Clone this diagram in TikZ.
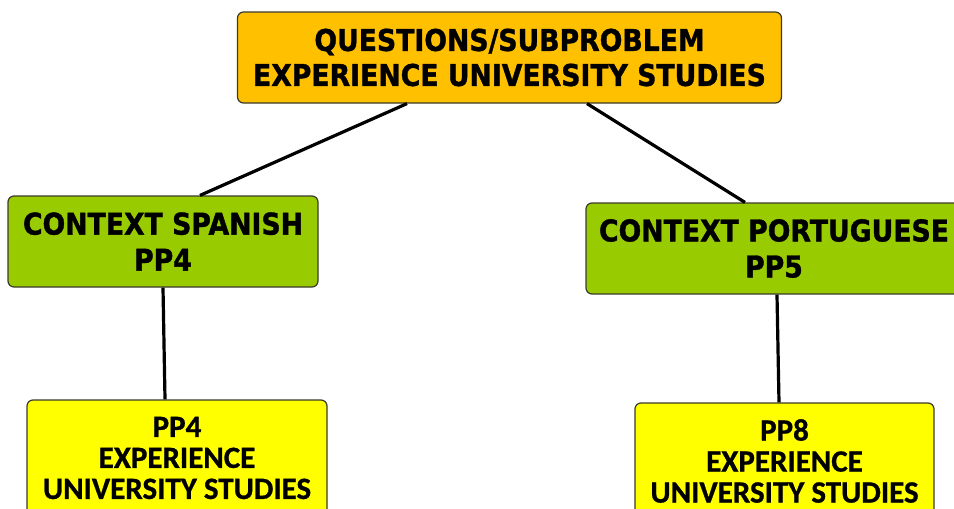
\documentclass[tikz,border=0pt]{standalone}
\usepackage{fontspec}
\newfontfamily\dvs{DejaVu Sans}[FakeStretch=0.89,FakeBold=1.2]
\newfontfamily\carl{Carlito}[FakeBold=0.8]
\definecolor{qorange}{HTML}{FFC000}
\definecolor{cgreen}{HTML}{99CC00}
\definecolor{pyellow}{HTML}{FFFF00}
\definecolor{bordercol}{HTML}{3A3A2A}
\tikzset{
  box/.style={draw=bordercol, line width=1.2pt, rounded corners=6pt, inner sep=0pt, align=center},
  headbox/.style={box, fill=qorange, font=\dvs\bfseries\fontsize{30}{35}\selectfont},
  ctxbox/.style={box, fill=cgreen, font=\dvs\bfseries\fontsize{30}{36}\selectfont},
  ppbox/.style={box, fill=pyellow, font=\carl\bfseries\fontsize{31}{31}\selectfont},
  link/.style={draw=black, line width=3.2pt}
}
\begin{document}
\begin{tikzpicture}[x=1pt,y=-1pt]
\useasboundingbox (0,0) rectangle (954,509);
\clip (0,0) rectangle (954,509);
\node[headbox, minimum width=544pt, minimum height=91pt] (q) at (509.5,57.5)
  {QUESTIONS/SUBPROBLEM\\EXPERIENCE UNIVERSITY STUDIES};
\node[ctxbox, minimum width=310pt, minimum height=91pt] (sp) at (163,241.5)
  {CONTEXT SPANISH\\PP4};
\node[ctxbox, minimum width=376pt, minimum height=91pt] (pt) at (774,248.5)
  {CONTEXT PORTUGUESE\\PP5};
\node[ppbox, minimum width=300pt, minimum height=116pt] (ys) at (177,458)
  {PP4\\EXPERIENCE\\UNIVERSITY STUDIES};
\node[ppbox, minimum width=299pt, minimum height=116pt] (yp) at (784.5,461)
  {PP8\\EXPERIENCE\\UNIVERSITY STUDIES};
\draw[link] ([xshift=-102.5pt]q.south) -- ([xshift=37pt]sp.north);
\draw[link] ([xshift=77.5pt]q.south) -- ([xshift=-29pt]pt.north);
\draw[link] (sp.south) -- ([xshift=-12pt]ys.north);
\draw[link] ([xshift=3pt]pt.south) -- ([xshift=-5.5pt]yp.north);
\end{tikzpicture}
\end{document}
